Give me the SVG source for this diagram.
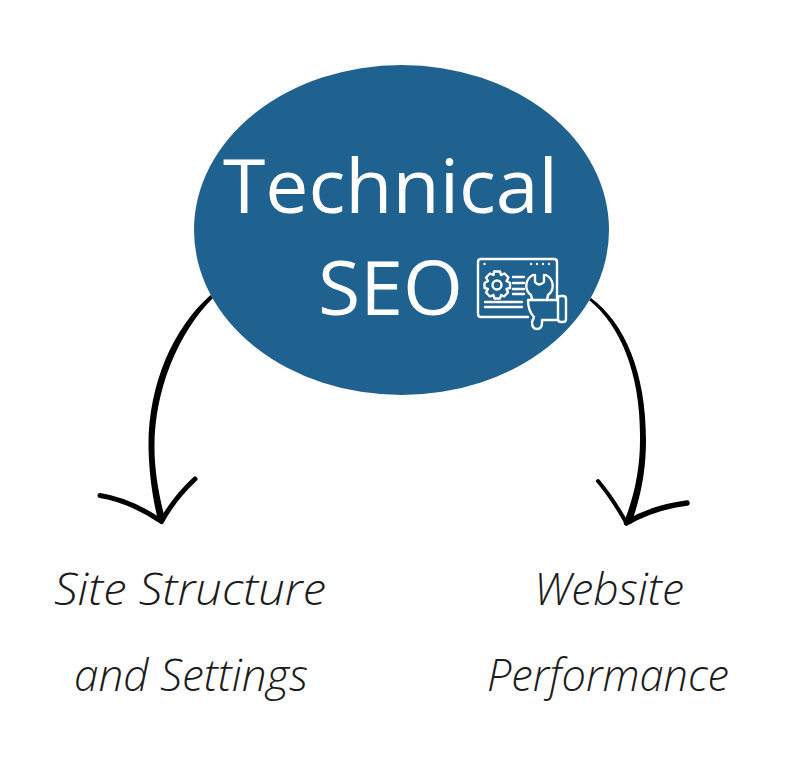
<svg xmlns="http://www.w3.org/2000/svg" width="800" height="780" viewBox="0 0 800 780">
<style>
.t{font-family:"Open Sans","Noto Sans",sans-serif;fill:#fff;font-size:75px;font-weight:400}
.l{font-family:"Open Sans","Noto Sans",sans-serif;fill:#1c1c1c;font-size:44px;font-weight:300;font-style:italic;text-anchor:middle}
.i{fill:none;stroke:#fff;stroke-width:2.400;stroke-linecap:round;stroke-linejoin:round}
.a{fill:none;stroke:#000;stroke-linecap:round;stroke-linejoin:round}
</style>
<rect width="800" height="780" fill="#fff"/>
<g id="connectors">
<path d="M210.500 295 C173 328 148 385 148.500 447 C149 475 153 500 158 520 L165 519 C159 495 154.500 472 154.500 447 C154.500 390 178 333 213 298 Z" fill="#000"/>
<path class="a" stroke-width="5" d="M100 495.500 C122 499 143 509 161.500 521.500 C170 506 181 492 195 479"/>
<path d="M589 300 C621 326 641 375 640 440 C640 470 634 497 624 522 L631 524 C641 497 646 470 646 440 C646 373 625 323 591 298 Z" fill="#000"/>
<path class="a" stroke-width="4" d="M598 481 C609 494 618 508 626.500 523"/>
<path class="a" stroke-width="5.500" d="M626.500 523 C645 512 664 506 687 503"/>
</g>
<g id="node-technical-seo">
<ellipse cx="401.500" cy="230" rx="207.500" ry="165" fill="#1f618f"/>
<text class="t" x="223" y="213" textLength="335" lengthAdjust="spacingAndGlyphs">Technical</text>
<text class="t" x="318" y="315" textLength="145" lengthAdjust="spacingAndGlyphs">SEO</text>
<g id="icon">
<path class="i" d="M528 317 H481 Q478 317 478 314 V262 Q478 259 481 259 H554 Q557 259 557 262 V298"/>
<g fill="#fff"><circle cx="484.500" cy="264" r="1.200"/><circle cx="531" cy="264" r="1.200"/><circle cx="537" cy="264" r="1.200"/><circle cx="543" cy="264" r="1.200"/><circle cx="549" cy="264" r="1.200"/></g>
<path class="i" d="M494 271.500 L500 271.500 L501 275 L504.500 273.500 L508.500 277.500 L506.500 281 L510 283 V288 L506.500 289 L508 292.500 L504 296.500 L501 295 L500 298.500 H494.500 L493.500 295 L490 296.500 L486 292.500 L488 289 L484.500 288 V283 L488 281 L486 277.500 L490 273.500 L493.500 275 Z"/>
<circle class="i" cx="497" cy="285" r="4.500"/>
<path class="i" d="M513 277 H524 M513 283 H524 M513 289 H524 M513 294 H524"/>
<path class="i" d="M485 302 H522 M485 307 H522"/>
<path class="i" d="M533 275 C525 279 524 290 531 295 L532 299 M546 275 C554 279 555 290 548 295 L547 300 M535 275 V282 Q539 287 544 282 V275"/>
<path class="i" d="M528 300 H558 M528 300 C528 307 530 313 534 317 L532 322 Q532 329 537 329 Q542 329 542 323 V320 H558 M558 298 Q558 296 561 296 H563 Q566 296 566 299 V319 Q566 322 563 322 H561 Q558 322 558 319 Z"/>
</g>
</g>
<g id="node-site-structure">
<text class="l" x="190" y="605" textLength="272" lengthAdjust="spacingAndGlyphs">Site Structure</text>
<text class="l" x="191" y="691" textLength="234" lengthAdjust="spacingAndGlyphs">and Settings</text>
</g>
<g id="node-website-performance">
<text class="l" x="609" y="605" textLength="150" lengthAdjust="spacingAndGlyphs">Website</text>
<text class="l" x="608" y="691" textLength="242" lengthAdjust="spacingAndGlyphs">Performance</text>
</g>
</svg>
